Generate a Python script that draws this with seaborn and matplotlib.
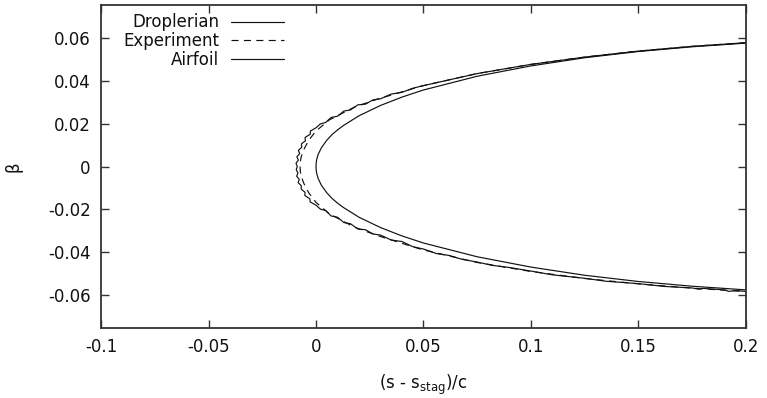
import matplotlib
matplotlib.use("Agg")
import matplotlib.pyplot as plt
from matplotlib.lines import Line2D
import pandas as pd
import seaborn as sns

# Airfoil leading-edge contour (upper trailing side -> nose -> lower trailing side)
airfoil_x = [0.2, 0.175, 0.15, 0.125, 0.1, 0.075, 0.05, 0.04, 0.03, 0.02, 0.0125, 0.01,
             0.0075, 0.005, 0.0025, 0.001, 0.0003, 0.0001, 0.0,
             0.0001, 0.0003, 0.001, 0.0025, 0.005, 0.0075, 0.01, 0.0125, 0.02, 0.03,
             0.04, 0.05, 0.075, 0.1, 0.125, 0.15, 0.175, 0.2]
airfoil_y = [0.0574, 0.0557, 0.0535, 0.0506, 0.0468, 0.0420, 0.0356, 0.0323, 0.0284, 0.0236,
             0.0189, 0.0170, 0.0149, 0.0122, 0.0087, 0.0056, 0.0031, 0.0018, 0.0,
             -0.0018, -0.0031, -0.0056, -0.0087, -0.0122, -0.0149, -0.0170, -0.0189,
             -0.0236, -0.0284, -0.0323, -0.0356, -0.0420, -0.0468, -0.0506, -0.0535,
             -0.0557, -0.0574]

# Droplerian ice contour
drop_x = [0.2, 0.175, 0.15, 0.125, 0.0999, 0.0748, 0.0494, 0.045, 0.04, 0.035, 0.03, 0.0265,
          0.023, 0.0195, 0.016, 0.013, 0.01, 0.007, 0.0045, 0.002, 0.0, -0.0026, -0.0027,
          -0.0051, -0.0049, -0.0068, -0.0066, -0.0082, -0.0076, -0.0089, -0.0082, -0.0093,
          -0.0087,
          -0.0092, -0.0084, -0.0090, -0.0078, -0.0083, -0.0068, -0.0069, -0.0051, -0.0052,
          -0.0029, -0.0027, 0.0000, 0.002, 0.0045, 0.007, 0.01, 0.013, 0.016, 0.0195, 0.023,
          0.0265, 0.03, 0.035, 0.04, 0.045, 0.05, 0.056, 0.062, 0.068, 0.0747, 0.082, 0.09,
          0.0997, 0.11, 0.125, 0.135, 0.15, 0.162, 0.175, 0.178, 0.18, 0.19, 0.192, 0.195, 0.2]
drop_y = [0.0576, 0.0559, 0.0537, 0.0509, 0.0475, 0.0432, 0.0375, 0.0364, 0.0345, 0.0337,
          0.0315, 0.0310, 0.0290, 0.0287, 0.0263, 0.0258, 0.0234, 0.0228, 0.0205, 0.0198,
          0.0180, 0.0165, 0.0150, 0.0135, 0.0120, 0.0105, 0.0090, 0.0075, 0.0060, 0.0045,
          0.0030, 0.0015, 0.0,
          -0.0015, -0.0030, -0.0045, -0.0060, -0.0075, -0.0090, -0.0105, -0.0120, -0.0135,
          -0.0150, -0.0165, -0.0180, -0.0198, -0.0205, -0.0230, -0.0236, -0.0261, -0.0266,
          -0.0291, -0.0294, -0.0314, -0.0319, -0.0342, -0.0349, -0.0373, -0.0384, -0.0405,
          -0.0414, -0.0432, -0.0444, -0.0460, -0.0470, -0.0486, -0.0504, -0.0520, -0.0534,
          -0.0545, -0.0558, -0.0565, -0.0571, -0.0567, -0.0574, -0.0581, -0.0577, -0.0581]

# Experimental ice contour
exp_x = [0.2, 0.175, 0.15, 0.125, 0.0999, 0.0748, 0.0494, 0.0287, 0.0178, 0.0062, 0.0,
         -0.0034, -0.0056, -0.0069, -0.0073, -0.0074, -0.0073, -0.0069, -0.0056, -0.0034,
         0.0, 0.0062, 0.0176, 0.0285, 0.0491, 0.0747, 0.0997, 0.125, 0.15, 0.175, 0.2]
exp_y = [0.0576, 0.0559, 0.0537, 0.0509, 0.0475, 0.0432, 0.0375, 0.0314, 0.0276, 0.0217,
         0.0165, 0.0122, 0.0080, 0.0045, 0.0022, 0.0, -0.0022, -0.0045, -0.0080, -0.0122,
         -0.0167, -0.0220, -0.0281, -0.0321, -0.0386, -0.0446, -0.0488, -0.0521, -0.0546,
         -0.0566, -0.0582]

series_names = ["Droplerian", "Experiment", "Airfoil"]

x_ticks = [-0.1, -0.05, 0, 0.05, 0.1, 0.15, 0.2]
x_ticklabels = ["-0.1", "-0.05", "0", "0.05", "0.1", "0.15", "0.2"]
y_ticks = [-0.06, -0.04, -0.02, 0, 0.02, 0.04, 0.06]
y_ticklabels = ["-0.06", "-0.04", "-0.02", "0", "0.02", "0.04", "0.06"]

sns.set_theme(style="white")
plt.rcParams["font.family"] = ["DejaVu Sans"]
plt.rcParams["mathtext.fontset"] = "dejavusans"

fig = plt.figure(figsize=(7.67, 3.98), dpi=100)
ax = fig.add_axes([0.1317, 0.1766, 0.9726 - 0.1317, 0.9867 - 0.1766])

ink = "#111111"
frame = "#333333"

df_drop = pd.DataFrame({"x": drop_x, "y": drop_y})
df_exp = pd.DataFrame({"x": exp_x, "y": exp_y})
df_air = pd.DataFrame({"x": airfoil_x, "y": airfoil_y})

sns.lineplot(data=df_air, x="x", y="y", sort=False, estimator=None, ax=ax,
             color=ink, linewidth=0.85)
sns.lineplot(data=df_exp, x="x", y="y", sort=False, estimator=None, ax=ax,
             color=ink, linewidth=0.85)
ax.lines[-1].set_dashes((6, 4.5))
sns.lineplot(data=df_drop, x="x", y="y", sort=False, estimator=None, ax=ax,
             color=ink, linewidth=0.85)

ax.set_xlim(-0.1, 0.2)
ax.set_ylim(-0.075, 0.075)
ax.set_xticks(x_ticks)
ax.set_xticklabels(x_ticklabels)
ax.set_yticks(y_ticks)
ax.set_yticklabels(y_ticklabels)

ax.tick_params(direction="in", length=6, width=1.0, color=frame, labelsize=12,
               labelcolor=ink, pad=7.5, top=True, right=True, bottom=True, left=True)
for sp in ax.spines.values():
    sp.set_visible(True)
    sp.set_color(frame)
    sp.set_linewidth(1.3)

ax.set_xlabel(r"(s - s$_\mathregular{stag}$)/c", fontsize=12, color=ink, labelpad=12)
ax.set_ylabel("β", fontsize=12, color=ink, labelpad=18)

handles = [
    Line2D([], [], color=ink, linewidth=0.85),
    Line2D([], [], color=ink, linewidth=0.85, dashes=(6, 4.5)),
    Line2D([], [], color=ink, linewidth=0.85),
]
leg = ax.legend(handles, series_names, loc="upper left", bbox_to_anchor=(0.034, 0.975),
                frameon=False, markerfirst=False, handlelength=3.2, handletextpad=0.7,
                labelspacing=0.05, borderpad=0, borderaxespad=0, fontsize=12)
for t in leg.get_texts():
    t.set_color(ink)

fig.savefig("out.png", dpi=100)
